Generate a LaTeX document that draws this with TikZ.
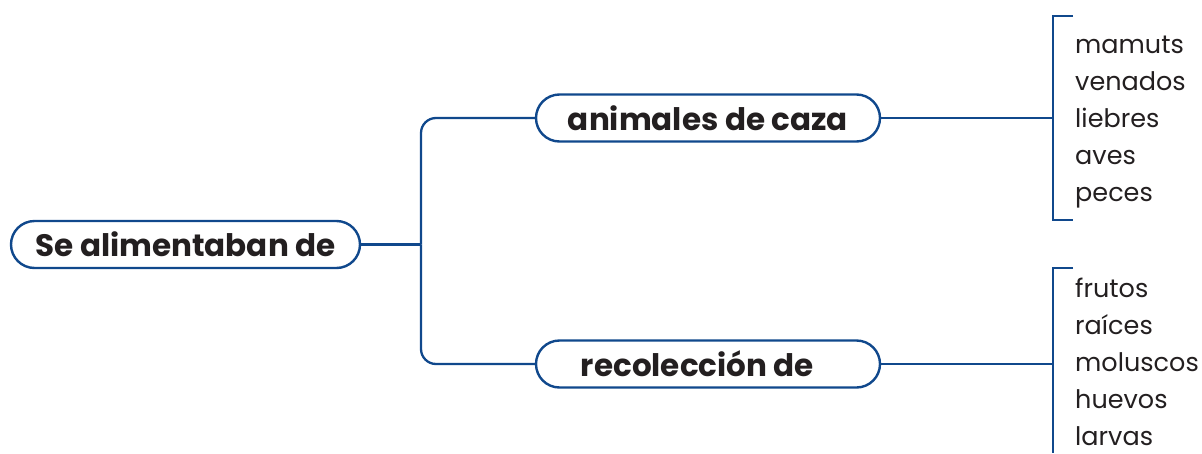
\documentclass[tikz,border=0pt]{standalone}
\usepackage{fontspec}
\setmainfont{Poppins}
\usetikzlibrary{shapes.misc}
\definecolor{dblue}{RGB}{16,72,140}
\definecolor{txt}{RGB}{35,31,32}
\begin{document}
\begin{tikzpicture}[x=1pt,y=-1pt,
  pill/.style={draw=dblue, line width=2.4pt, rounded rectangle, minimum height=47pt, inner sep=0pt, text=txt, font=\bfseries\fontsize{31}{31}\selectfont},
  conn/.style={draw=dblue, line width=2.3pt},
  item/.style={anchor=base west, inner sep=0pt, text=txt, font=\fontsize{25.5}{25.5}\selectfont}]
\useasboundingbox (0,0) rectangle (1202,453);
\node[pill, minimum width=349pt] (a) at (185.5,244.5) {Se alimentaban de};
\node[pill, minimum width=344pt] (b) at (708,118) {animales de caza};
\node[pill, minimum width=344pt] (c) at (708,364) {recolección de\kern21pt};
\coordinate (j) at (421,244.5);
\draw[conn] (a.east) -- (j);
\draw[conn, rounded corners=15pt] (b.west) -| (j);
\draw[conn, rounded corners=15pt] (c.west) -| (j);
% brackets
\coordinate (t1) at (1073,16);
\coordinate (t2) at (1053,16);
\coordinate (t3) at (1053,220);
\coordinate (t4) at (1073,220);
\coordinate (tm) at (1053,118);
\draw[conn] (t1) -- (t2) -- (t3) -- (t4);
\draw[conn] (b.east) -- (tm);
\coordinate (u1) at (1073,268);
\coordinate (u2) at (1053,268);
\coordinate (u3) at (1053,453);
\coordinate (um) at (1053,364);
\draw[conn] (u1) -- (u2) -- (u3);
\draw[conn] (c.east) -- (um);
% lists
\node[item] (m1) at (1075,53) {mamuts};
\node[item] (m2) at (1075,90) {venados};
\node[item] (m3) at (1075,127) {liebres};
\node[item] (m4) at (1075,164) {aves};
\node[item] (m5) at (1075,201) {peces};
\node[item] (n1) at (1075,297) {frutos};
\node[item] (n2) at (1075,334) {raíces};
\node[item] (n3) at (1075,371) {moluscos};
\node[item] (n4) at (1075,408) {huevos};
\node[item] (n5) at (1075,445) {larvas};
\end{tikzpicture}
\end{document}
